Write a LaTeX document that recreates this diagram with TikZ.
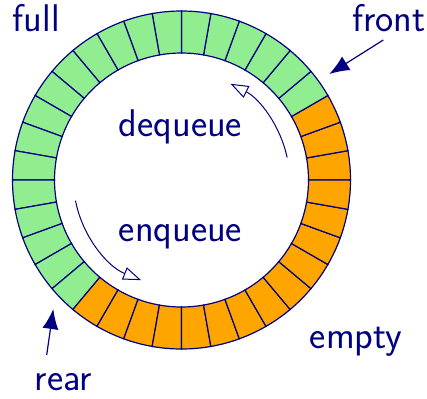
\documentclass[tikz,border=0pt]{standalone}
\usetikzlibrary{arrows.meta}
\definecolor{ink}{RGB}{0,0,128}
\definecolor{fullc}{RGB}{144,238,144}
\definecolor{emptyc}{RGB}{255,165,0}
\begin{document}
\begin{tikzpicture}[x=0.5pt,y=0.5pt,
  lbl/.style={text=ink,inner sep=0pt,anchor=base west,font=\sffamily\fontsize{19.3}{22}\selectfont},
  cell/.style={draw=ink,line width=0.6pt},
  pointer/.style={draw=ink,line width=0.6pt,-{Latex[length=10pt,width=8pt]}},
  flow/.style={draw=ink,line width=0.5pt,-{Triangle[open,length=9pt,width=6.5pt]}}]
\useasboundingbox (0,0) rectangle (427,398);
\begin{scope}[shift={(181.5,218)}]
  \foreach \i in {0,...,35}{
    \pgfmathtruncatemacro{\a}{10*\i}
    \pgfmathtruncatemacro{\b}{10*\i+10}
    \ifnum\a<30 \def\cc{emptyc}\else\ifnum\a<230 \def\cc{fullc}\else\def\cc{emptyc}\fi\fi
    \path[cell,fill=\cc] (\a:127) arc[start angle=\a,end angle=\b,radius=127]
      -- (\b:169) arc[start angle=\b,end angle=\a,radius=169] -- cycle;
  }
  \coordinate (dqs) at (12:108);
  \coordinate (eqs) at (191:108);
  \draw[flow] (dqs) arc[start angle=12,end angle=63,radius=108];
  \draw[flow] (eqs) arc[start angle=191,end angle=248,radius=108];
\end{scope}
\node[lbl] (full) at (12.5,366.3) {full};
\node[lbl] (front) at (352,366.3) {front};
\node[lbl] (dequeue) at (118.5,261.3) {dequeue};
\node[lbl] (enqueue) at (118.5,156.3) {enqueue};
\node[lbl] (empty) at (309.5,49.7) {empty};
\node[lbl] (rear) at (34.5,8) {rear};
\coordinate (fronttail) at (383.3,358);
\coordinate (fronttip) at (329.3,324);
\coordinate (reartail) at (46.7,43);
\coordinate (reartip) at (53.3,89);
\draw[pointer] (fronttail) -- (fronttip);
\draw[pointer] (reartail) -- (reartip);
\end{tikzpicture}
\end{document}
